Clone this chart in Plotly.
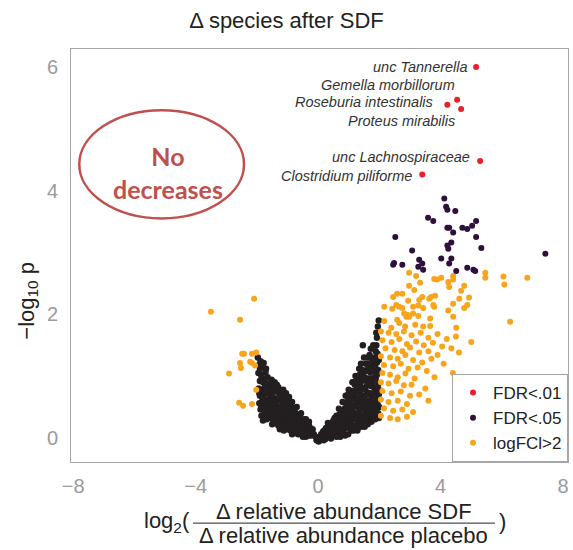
import plotly.graph_objects as go

# ---- data ----
red_x = [5.16, 4.54, 4.22, 4.67, 5.29, 3.40]
red_y = [6.00, 5.47, 5.39, 5.32, 4.48, 4.26]
red_labels = ["unc Tannerella", "Gemella morbillorum", "Roseburia intestinalis",
              "Proteus mirabilis", "unc Lachnospiraceae", "Clostridium piliforme"]
label_x = [4.97, 4.54, 3.82, 4.54, 5.03, 3.14]
label_y = [6.00, 5.71, 5.44, 5.13, 4.55, 4.24]

purple_x = [4.12, 4.18, 4.22, 4.48, 3.59, 3.76, 4.22, 4.28, 4.41, 4.71, 4.87, 5.03,
            5.16, 2.52, 5.16, 4.35, 4.22, 4.25, 5.33, 3.07, 7.42, 4.02, 4.35, 3.30,
            2.48, 2.45, 2.75, 3.40, 4.28, 3.27, 3.43, 4.51, 4.87, 5.07, 5.13]
purple_y = [3.87, 3.74, 3.69, 3.67, 3.56, 3.51, 3.40, 3.40, 3.32, 3.40, 3.38, 3.43,
            3.51, 3.25, 3.25, 3.16, 3.11, 3.06, 3.07, 3.03, 2.98, 2.90, 2.90, 2.88,
            2.83, 2.80, 2.80, 2.82, 2.82, 2.77, 2.72, 2.70, 2.75, 2.72, 2.70]

orange_pts = [
    (-3.50, 2.04), (-2.09, 2.25), (-2.55, 1.91), (-2.48, 1.36), (-2.42, 1.36), (-2.16, 1.36),
    (-2.02, 1.38), (-2.55, 1.21), (-2.22, 1.23), (-2.16, 1.21), (-2.06, 1.17), (-2.52, 1.13),
    (-2.91, 1.04), (-2.02, 0.78), (-2.58, 0.57), (-2.45, 0.52), (-2.16, 0.55),
    (2.97, 2.67), (3.20, 2.62), (3.79, 2.57), (3.89, 2.56), (4.02, 2.59), (4.25, 2.52),
    (4.41, 2.62), (4.41, 2.56), (5.46, 2.67), (5.46, 2.59), (6.05, 2.61), (6.83, 2.59),
    (6.08, 2.48), (3.33, 2.51), (2.97, 2.46), (4.28, 2.44), (4.77, 2.46), (3.14, 2.39),
    (4.67, 2.38), (2.45, 2.28), (2.58, 2.33), (2.75, 2.33), (2.94, 2.22), (3.30, 2.23),
    (3.40, 2.28), (3.63, 2.25), (3.69, 2.28), (3.82, 2.30), (4.61, 2.25), (4.93, 2.27),
    (2.16, 2.12), (2.42, 2.09), (2.55, 2.15), (2.65, 2.12), (2.75, 2.10), (3.10, 2.12),
    (3.27, 2.14), (3.43, 2.10), (3.76, 2.15), (3.79, 2.12), (4.41, 2.17), (4.87, 2.15),
    (4.77, 2.10), (4.25, 2.06), (2.81, 2.01), (2.91, 1.99), (3.10, 2.01), (3.27, 1.97),
    (2.88, 1.96), (2.97, 1.96), (2.16, 1.89), (2.58, 1.91), (2.65, 1.86), (3.66, 1.93),
    (4.41, 1.96), (6.27, 1.88), (2.39, 1.78), (2.84, 1.80), (3.17, 1.83), (3.43, 1.80),
    (3.66, 1.81), (4.51, 1.78),
    (2.05, 1.72), (2.30, 1.70), (2.55, 1.68), (2.80, 1.72), (3.05, 1.66), (3.35, 1.70),
    (3.60, 1.62), (3.90, 1.68), (4.20, 1.60), (4.50, 1.64), (5.00, 1.55),
    (2.10, 1.58), (2.40, 1.55), (2.65, 1.60), (2.90, 1.52), (3.20, 1.56), (3.45, 1.50),
    (3.75, 1.54), (4.05, 1.48), (4.35, 1.45),
    (2.20, 1.45), (2.50, 1.42), (2.75, 1.40), (3.00, 1.46), (3.30, 1.38), (3.60, 1.40),
    (3.90, 1.34), (4.60, 1.38),
    (2.05, 1.32), (2.35, 1.30), (2.60, 1.28), (2.85, 1.34), (3.10, 1.26), (3.40, 1.22),
    (3.70, 1.28), (4.10, 1.20),
    (2.15, 1.18), (2.45, 1.16), (2.70, 1.20), (2.95, 1.12), (3.25, 1.14), (3.55, 1.08),
    (4.40, 1.05),
    (2.10, 1.05), (2.35, 1.02), (2.60, 0.98), (2.85, 1.04), (3.15, 0.96), (3.80, 0.98),
    (2.05, 0.90), (2.30, 0.88), (2.55, 0.92), (2.80, 0.85), (3.05, 0.86), (3.50, 0.80),
    (2.10, 0.76), (2.40, 0.72), (2.70, 0.75), (3.00, 0.68), (3.30, 0.70),
    (2.05, 0.62), (2.30, 0.58), (2.60, 0.60), (2.90, 0.55), (3.60, 0.60),
    (2.15, 0.48), (2.45, 0.44), (2.75, 0.46), (3.10, 0.42),
    (2.05, 0.36), (2.35, 0.32), (2.60, 0.30), (2.90, 0.34),
]
orange_x = [p[0] for p in orange_pts]
orange_y = [p[1] for p in orange_pts]

black_pts = [
    (-1.97, 1.30), (-1.93, 1.18), (-1.88, 1.24), (-1.82, 1.15), (-1.78, 1.21), (-1.95, 1.05),
    (-1.86, 1.02), (-1.72, 1.06), (-1.65, 0.98), (-1.90, 0.92), (-1.80, 0.90), (-1.60, 0.88),
    (-1.94, 0.80), (-1.84, 0.78), (-1.74, 0.82), (-1.55, 0.80), (-1.45, 0.84), (-1.35, 0.86),
    (-1.90, 0.68), (-1.78, 0.70), (-1.68, 0.72), (-1.58, 0.70), (-1.48, 0.74), (-1.38, 0.76),
    (-1.28, 0.72), (-1.20, 0.74), (-1.92, 0.56), (-1.82, 0.60), (-1.72, 0.58), (-1.62, 0.62),
    (-1.52, 0.60), (-1.42, 0.64), (-1.32, 0.62), (-1.22, 0.60), (-1.12, 0.64), (-1.02, 0.62),
    (-1.88, 0.46), (-1.76, 0.50), (-1.66, 0.48), (-1.56, 0.52), (-1.46, 0.50), (-1.36, 0.52),
    (-1.26, 0.50), (-1.16, 0.52), (-1.06, 0.50), (-0.96, 0.54), (-0.88, 0.50), (-1.85, 0.36),
    (-1.74, 0.40), (-1.64, 0.38), (-1.54, 0.42), (-1.44, 0.40), (-1.34, 0.42), (-1.24, 0.40),
    (-1.14, 0.42), (-1.04, 0.40), (-0.94, 0.42), (-0.84, 0.44), (-0.76, 0.42), (-1.80, 0.28),
    (-1.68, 0.30), (-1.58, 0.32), (-1.48, 0.30), (-1.38, 0.32), (-1.28, 0.30), (-1.18, 0.32),
    (-1.08, 0.30), (-0.98, 0.32), (-0.88, 0.34), (-0.78, 0.34), (-0.68, 0.36), (-0.60, 0.34),
    (-1.50, 0.22), (-1.40, 0.24), (-1.30, 0.20), (-1.20, 0.22), (-1.10, 0.20), (-1.00, 0.22),
    (-0.90, 0.24), (-0.80, 0.24), (-0.70, 0.26), (-0.60, 0.26), (-0.52, 0.28), (-0.45, 0.30),
    (-1.25, 0.14), (-1.12, 0.12), (-1.00, 0.14), (-0.90, 0.12), (-0.80, 0.14), (-0.70, 0.16),
    (-0.62, 0.18), (-0.54, 0.20), (-0.46, 0.20), (-0.38, 0.22), (-0.30, 0.20), (-0.85, 0.06),
    (-0.75, 0.08), (-0.65, 0.06), (-0.55, 0.10), (-0.45, 0.10), (-0.36, 0.12), (-0.28, 0.12),
    (-0.20, 0.10), (-0.50, 0.02), (-0.40, 0.02), (-0.30, 0.04), (-0.22, 0.04), (-0.14, 0.06),
    (-0.08, 0.02), (-0.05, -0.04), (-1.70, 1.12), (-1.52, 0.94), (-1.42, 0.90), (-1.30, 0.82),
    (-1.14, 0.78), (-1.05, 0.72), (-0.95, 0.66), (-0.85, 0.58), (-0.70, 0.50), (-0.56, 0.40),
    (-0.40, 0.30), (-0.30, 0.26),
    (-1.90, 1.12), (-1.84, 0.98), (-1.76, 0.94), (-1.70, 0.88), (-1.62, 0.78), (-1.50, 0.68),
    (-1.40, 0.56), (-1.30, 0.46), (-1.20, 0.36), (-1.10, 0.28), (-0.98, 0.26), (-0.86, 0.20),
    (-0.74, 0.20), (-0.66, 0.28), (-0.58, 0.14), (-0.42, 0.16), (-0.34, 0.06), (-0.26, 0.16),
    (-0.18, 0.14), (-1.66, 0.56), (-1.56, 0.60), (-1.46, 0.58), (-1.70, 0.36), (-1.60, 0.44),
    (-1.44, 0.34), (-1.34, 0.26), (-1.16, 0.18), (-1.04, 0.18), (-0.94, 0.36), (-0.82, 0.28),
    (-0.72, 0.30), (-0.64, 0.12), (-1.92, 0.72), (-1.86, 0.52), (-1.78, 0.62), (-1.22, 0.68),
    (-1.10, 0.56), (-1.00, 0.46), (-0.92, 0.56),
    (0.02, -0.06), (0.08, -0.02), (0.12, 0.04), (0.18, -0.04), (0.22, 0.08), (0.28, 0.02),
    (0.30, 0.14), (0.36, 0.06), (0.40, 0.20), (0.42, -0.01), (0.46, 0.12), (0.50, 0.28),
    (0.52, 0.04), (0.56, 0.18), (0.60, 0.36), (0.62, 0.08), (0.64, 0.26), (0.68, 0.47),
    (0.70, 0.14), (0.72, 0.02), (0.74, 0.34), (0.78, 0.22), (0.80, 0.58), (0.82, 0.08),
    (0.84, 0.42), (0.86, 0.30), (0.90, 0.16), (0.90, 0.68), (0.94, 0.50), (0.96, 0.38),
    (0.98, 0.06), (1.00, 0.24), (1.00, 0.78), (1.04, 0.58), (1.06, 0.44), (1.08, 0.12),
    (1.10, 0.32), (1.12, 0.90), (1.14, 0.66), (1.16, 0.52), (1.18, 0.20), (1.20, 0.40),
    (1.22, 1.00), (1.24, 0.76), (1.26, 0.60), (1.28, 0.12), (1.30, 0.28), (1.32, 0.48),
    (1.34, 1.12), (1.36, 0.86), (1.38, 0.70), (1.40, 0.18), (1.42, 0.36), (1.44, 0.56),
    (1.46, 1.00), (1.46, 1.50), (1.48, 0.80), (1.50, 0.26), (1.52, 0.64), (1.54, 0.44),
    (1.56, 1.20), (1.58, 0.92), (1.60, 0.74), (1.62, 0.22), (1.64, 0.34), (1.66, 0.54),
    (1.68, 1.34), (1.70, 1.06), (1.72, 0.84), (1.74, 0.66), (1.76, 0.30), (1.78, 0.44),
    (1.80, 1.50), (1.82, 1.20), (1.84, 0.98), (1.86, 0.76), (1.88, 0.58), (1.90, 0.36),
    (1.92, 1.62), (1.94, 1.36), (1.96, 1.10), (1.97, 0.88), (1.98, 0.70), (1.99, 0.50),
    (1.95, 1.80), (1.98, 1.90), (1.88, 1.40), (1.76, 1.28), (1.60, 1.10), (1.50, 1.30),
    (1.40, 1.20), (1.30, 0.98), (1.20, 0.86), (1.10, 0.62), (0.98, 0.60), (0.88, 0.48),
    (0.76, 0.40), (0.66, 0.32), (0.58, 0.22), (0.48, 0.16), (0.38, 0.10), (0.32, 0.24),
    (0.26, 0.16), (0.16, 0.10), (0.10, 0.06), (0.06, 0.02),
    (1.92, 1.22), (1.84, 1.08), (1.78, 0.90), (1.70, 0.72), (1.66, 0.96), (1.58, 0.58),
    (1.54, 0.82), (1.46, 0.68), (1.42, 0.92), (1.36, 0.58), (1.28, 0.82), (1.24, 0.52),
    (1.18, 0.70), (1.12, 0.44), (1.06, 0.26), (1.02, 0.48), (0.94, 0.28), (0.86, 0.18),
    (0.80, 0.34), (0.72, 0.26), (0.66, 0.12), (0.56, 0.08), (0.46, 0.06), (1.34, 0.38),
    (1.56, 0.36), (1.70, 0.42), (1.82, 0.50), (1.92, 0.62), (1.88, 0.96), (1.80, 0.70),
    (1.62, 0.46), (1.50, 0.52), (1.26, 0.30), (1.14, 0.34), (0.90, 0.40), (1.44, 0.26),
    (1.60, 0.30), (1.86, 0.30), (1.96, 0.40), (1.74, 0.26), (1.52, 0.18), (1.30, 0.16),
    (1.16, 0.12),
    (0.04, 0.00), (0.14, 0.00), (0.20, 0.12), (0.24, -0.02), (0.34, 0.16), (0.44, 0.24),
    (0.50, 0.10), (0.54, 0.32), (0.60, 0.02), (0.60, 0.14), (0.70, 0.38), (0.76, 0.12),
    (0.84, 0.24), (0.88, 0.04), (0.92, 0.56), (0.96, 0.18), (1.02, 0.36), (1.04, 0.66),
    (1.08, 0.20), (1.10, 0.52), (1.14, 0.76), (1.20, 0.30), (1.22, 0.62), (1.26, 0.90),
    (1.32, 0.22), (1.34, 0.64), (1.38, 0.46), (1.40, 0.78), (1.44, 1.10), (1.48, 0.36),
    (1.50, 0.60), (1.52, 0.98), (1.56, 0.28), (1.58, 0.70), (1.62, 0.86), (1.64, 1.20),
    (1.66, 0.40), (1.70, 0.60), (1.72, 0.96), (1.74, 1.16), (1.76, 0.52), (1.80, 0.36),
    (1.82, 0.82), (1.86, 1.16), (1.90, 0.46), (1.90, 0.72), (1.92, 1.02), (1.94, 0.54),
    (1.96, 0.80), (1.98, 1.26), (1.98, 0.32), (1.90, 1.50), (1.84, 1.30), (1.72, 1.44),
    (1.62, 1.30), (1.54, 1.08), (1.36, 1.02), (1.16, 0.90), (0.98, 0.70), (1.90, 1.70),
]
black_x = [p[0] for p in black_pts]
black_y = [p[1] for p in black_pts]

x_ticks = [-8, -4, 0, 4, 8]
y_ticks = [0, 2, 4, 6]

FONT = "Liberation Sans, Arial, Helvetica, sans-serif"
C_BLACK = "#231f20"
C_ORANGE = "#f9a51c"
C_PURPLE = "#2f0f3b"
C_RED = "#e8202a"
C_ELL = "#c0504d"

fig = go.Figure()
fig.add_trace(go.Scatter(x=black_x, y=black_y, mode="markers", showlegend=False,
                         marker=dict(color=C_BLACK, size=6.5, line=dict(width=0)), hoverinfo="skip"))
fig.add_trace(go.Scatter(x=orange_x, y=orange_y, mode="markers", name="logFCl>2",
                         marker=dict(color=C_ORANGE, size=6, line=dict(width=0))))
fig.add_trace(go.Scatter(x=purple_x, y=purple_y, mode="markers", name="FDR<.05",
                         marker=dict(color=C_PURPLE, size=6, line=dict(width=0))))
fig.add_trace(go.Scatter(x=red_x, y=red_y, mode="markers", name="FDR<.01",
                         marker=dict(color=C_RED, size=6, line=dict(width=0))))

ann = []
for lx, ly, t in zip(label_x, label_y, red_labels):
    ann.append(dict(x=lx, y=ly, xref="x", yref="y", text="<i>" + t + "</i>", showarrow=False,
                    xanchor="right", yanchor="middle",
                    font=dict(family=FONT, size=14.5, color="#333333")))

# ellipse text
ann.append(dict(x=-4.90, y=4.30, xref="x", yref="y", text="<b>No<br>decreases</b>", showarrow=False,
                xanchor="center", yanchor="middle", align="center",
                font=dict(family="Lato, Liberation Sans, sans-serif", size=25, color=C_ELL)))

# y-axis title
ann.append(dict(x=-0.087, y=0.39, xref="paper", yref="paper", text="\u2212log<sub>10</sub> p",
                showarrow=False, textangle=-90, xanchor="center", yanchor="middle",
                font=dict(family=FONT, size=22, color="#222222")))

# x-axis title as a fraction
ann.append(dict(x=0.2435, y=-0.145, xref="paper", yref="paper", text="log<sub>2</sub>(",
                showarrow=False, xanchor="right", yanchor="middle",
                font=dict(family=FONT, size=22, color="#222222")))
ann.append(dict(x=0.549, y=-0.121, xref="paper", yref="paper", text="\u0394 relative abundance SDF",
                showarrow=False, xanchor="center", yanchor="middle",
                font=dict(family=FONT, size=22, color="#222222")))
ann.append(dict(x=0.549, y=-0.179, xref="paper", yref="paper", text="\u0394 relative abundance placebo",
                showarrow=False, xanchor="center", yanchor="middle",
                font=dict(family=FONT, size=22, color="#222222")))
ann.append(dict(x=0.857, y=-0.145, xref="paper", yref="paper", text=")",
                showarrow=False, xanchor="left", yanchor="middle",
                font=dict(family=FONT, size=22, color="#222222")))

shapes = [
    dict(type="line", xref="paper", yref="paper", x0=0.2455, x1=0.853, y0=-0.148, y1=-0.148,
         line=dict(color="#222222", width=1)),
    dict(type="circle", xref="x", yref="y", x0=-7.8, x1=-2.42, y0=3.55, y1=5.3,
         line=dict(color=C_ELL, width=2.5)),
]

axis_common = dict(showline=True, mirror=True, linecolor="#a6a6a6", linewidth=1,
                   showgrid=False, zeroline=False, ticks="",
                   tickfont=dict(family=FONT, size=20, color="#9b9b9b"))

fig.update_layout(
    width=573, height=550, autosize=False,
    margin=dict(l=71, r=5, t=49, b=88),
    paper_bgcolor="white", plot_bgcolor="white",
    title=dict(text="\u0394 species after SDF", x=0.5, xref="container", xanchor="center",
               y=1 - 20 / 550, yref="container", yanchor="middle",
               font=dict(family=FONT, size=22, color="#222222")),
    xaxis=dict(range=[-8.07, 8.16], tickvals=x_ticks, ticklabelstandoff=6, **axis_common),
    yaxis=dict(range=[-0.39, 6.29], tickvals=y_ticks, ticklabelstandoff=8, **axis_common),
    legend=dict(x=1, y=0, xanchor="right", yanchor="bottom", traceorder="reversed",
                bgcolor="white", bordercolor="#a6a6a6", borderwidth=1,
                font=dict(family=FONT, size=17, color="#222222")),
    annotations=ann, shapes=shapes,
)

fig.write_html("out.html", config={"displayModeBar": False},
               post_script="document.body.style.margin='0px';")
